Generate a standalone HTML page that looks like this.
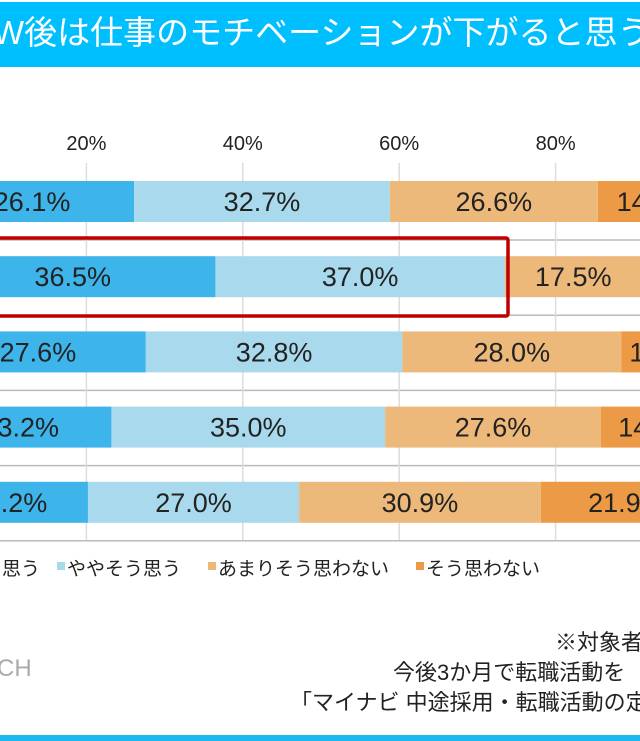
<!DOCTYPE html>
<html><head><meta charset="utf-8">
<style>
body{margin:0;width:640px;height:741px;overflow:hidden;background:#fff;position:relative;font-family:"Liberation Sans","Noto Sans CJK JP",sans-serif}
.t{position:absolute;white-space:nowrap}
</style></head><body>
<div style="position:absolute;left:0;top:2px;width:640px;height:65px;background:#00BFFF"></div>
<div class="t" style="left:-7px;top:10px;font-size:33px;color:#fff;line-height:46px;width:647px;overflow:hidden">W後は仕事のモチベーションが下がると思う</div>
<svg id="chart" width="640" height="741" style="position:absolute;left:0;top:0;overflow:hidden"></svg>
<div class="t" style="left:555px;top:625px;font-size:22px;color:#222">※対象者</div>
<div class="t" style="left:393px;top:655px;font-size:22px;color:#222">今後3か月で転職活動を</div>
<div class="t" style="left:290px;top:685px;font-size:22px;color:#222">「マイナビ 中途採用・転職活動の定</div>
<div class="t" style="left:-3px;top:655px;font-size:24px;color:#aaa">CH</div>
<div style="position:absolute;left:0;top:735px;width:640px;height:6px;background:#1CB8F0"></div>
<script>
const ticks=[20,40,60,80];
const tickLabels=["20%","40%","60%","80%"];
const s1=[26.1,36.5,27.6,23.2,20.2];
const s2=[32.7,37.0,32.8,35.0,27.0];
const s3=[26.6,17.5,28.0,27.6,30.9];
const s4=[14.6,9.0,11.6,14.2,21.9];
const legendLabels=["そう思う","ややそう思う","あまりそう思わない","そう思わない"];
const colors=["#3DB4EA","#A9D9EC","#EDB97A","#EC9A45"];
const svg=document.getElementById('chart');
const NS="http://www.w3.org/2000/svg";
const x=v=>-70+v*7.82;
const rowTop=i=>181+i*75.2;
function mk(t,a){const e=document.createElementNS(NS,t);for(const k in a)e.setAttribute(k,a[k]);svg.appendChild(e);return e;}
for(let i=0;i<5;i++){const l=mk('line',{x1:0,x2:640,y1:rowTop(i)+59,y2:rowTop(i)+59,stroke:'#bbb','stroke-width':1.5});

}
ticks.forEach((t,i)=>{
 const g=mk('line',{x1:x(t),x2:x(t),y1:163,y2:540,stroke:'#ddd','stroke-width':1.5});
 
 
 const tx=mk('text',{x:x(t),y:150,'text-anchor':'middle','font-size':20,fill:'#222'});
 
 
 tx.textContent=tickLabels[i];
});
const series=[s1,s2,s3,s4];
for(let r=0;r<5;r++){
 let c=0;
 series.forEach((s,k)=>{
  const v=s[r];const y=rowTop(r);
  const rc=mk('rect',{x:x(c),y:y,width:x(c+v)-x(c),height:41,fill:colors[k]});
  
  
  const tx=mk('text',{x:(x(c)+x(c+v))/2,y:y+30,'text-anchor':'middle','font-size':27,fill:'#222'});
  
  
  tx.textContent=v.toFixed(1)+'%';
  c+=v;
 });
}
const hb=mk('rect',{x:-10,y:238,width:518,height:78,fill:'none',stroke:'#C00000','stroke-width':3.5,rx:2});


const lx=[-46,57,208,416];
legendLabels.forEach((l,i)=>{
 const sq=mk('rect',{x:lx[i],y:562,width:8,height:8,fill:colors[i]});
 
 
 const tx=mk('text',{x:lx[i]+10,y:575,'font-size':19,fill:'#222'});
 
 
 tx.textContent=l;
});
</script>
</body></html>
